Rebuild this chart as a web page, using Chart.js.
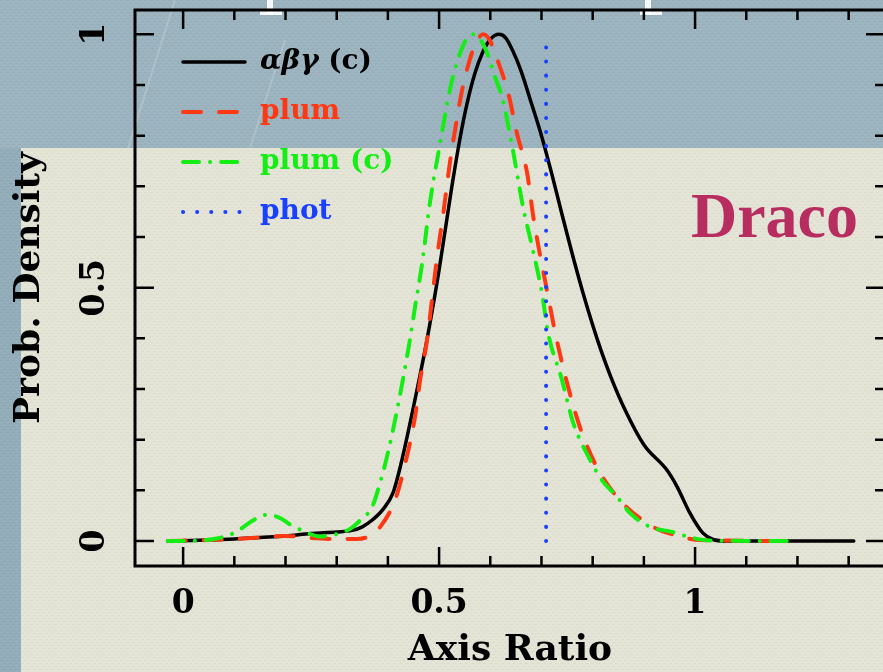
<!DOCTYPE html>
<html>
<head>
<meta charset="utf-8">
<script src="https://cdn.jsdelivr.net/npm/chart.js@4"></script>
<style>
  html, body { margin: 0; padding: 0; overflow: hidden; background: #e4e4d6; }
  canvas { display: block; }
</style>
</head>
<body>
<canvas id="densityChart" width="900" height="672"></canvas>
<script>
// axis ratio (x) and normalised probability density (y) per model
var abgRatio   = [-0.03, 0.05, 0.1, 0.15, 0.2, 0.25, 0.3, 0.33, 0.35, 0.37, 0.39, 0.41, 0.425, 0.45, 0.475, 0.5, 0.525, 0.54, 0.555, 0.57, 0.585, 0.6, 0.617, 0.63, 0.645, 0.66, 0.68, 0.7, 0.72, 0.74, 0.76, 0.785, 0.81, 0.835, 0.865, 0.9, 0.945, 0.965, 0.99, 1.015, 1.035, 1.06, 1.31];
var abgDensity = [0, 0.002, 0.004, 0.007, 0.01, 0.015, 0.018, 0.021, 0.028, 0.042, 0.062, 0.095, 0.15, 0.265, 0.39, 0.535, 0.7, 0.79, 0.865, 0.923, 0.964, 0.99, 1.0, 0.993, 0.965, 0.928, 0.865, 0.8, 0.725, 0.645, 0.567, 0.476, 0.395, 0.325, 0.255, 0.19, 0.14, 0.107, 0.055, 0.016, 0.003, 0, 0];

var plumRatio   = [-0.03, 0.05, 0.1, 0.15, 0.2, 0.25, 0.3, 0.34, 0.36, 0.38, 0.414, 0.434, 0.453, 0.463, 0.477, 0.486, 0.496, 0.508, 0.521, 0.531, 0.545, 0.56, 0.573, 0.586, 0.598, 0.609, 0.635, 0.652, 0.672, 0.684, 0.717, 0.727, 0.75, 0.775, 0.808, 0.853, 0.918, 0.96, 1.01, 1.19];
var plumDensity = [0, 0.002, 0.004, 0.007, 0.01, 0.006, 0.004, 0.004, 0.008, 0.022, 0.081, 0.154, 0.245, 0.318, 0.4, 0.476, 0.56, 0.645, 0.746, 0.81, 0.89, 0.95, 0.985, 1.0, 0.99, 0.963, 0.884, 0.805, 0.726, 0.64, 0.462, 0.41, 0.312, 0.225, 0.146, 0.081, 0.028, 0.012, 0.002, 0];

var plumCRatio   = [-0.03, 0.03, 0.06, 0.1, 0.137, 0.165, 0.19, 0.21, 0.234, 0.268, 0.293, 0.326, 0.346, 0.369, 0.385, 0.4, 0.418, 0.443, 0.453, 0.467, 0.482, 0.502, 0.521, 0.535, 0.547, 0.556, 0.566, 0.58, 0.594, 0.609, 0.623, 0.643, 0.664, 0.682, 0.701, 0.713, 0.74, 0.75, 0.762, 0.795, 0.818, 0.848, 0.873, 0.912, 0.955, 0.996, 1.03, 1.185];
var plumCDensity = [0, 0.001, 0.004, 0.016, 0.041, 0.052, 0.045, 0.032, 0.02, 0.009, 0.012, 0.024, 0.041, 0.067, 0.116, 0.174, 0.259, 0.397, 0.462, 0.549, 0.667, 0.785, 0.89, 0.945, 0.978, 0.994, 1.0, 0.99, 0.963, 0.916, 0.876, 0.778, 0.659, 0.58, 0.489, 0.41, 0.318, 0.278, 0.233, 0.16, 0.12, 0.087, 0.055, 0.028, 0.018, 0.006, 0.001, 0];

var photRatio   = [0.709, 0.709];
var photDensity = [0, 1.0];

var seriesLabels = ['αβγ (c)', 'plum', 'plum (c)', 'phot'];
var xTickLabels = ['0', '0.5', '1'];
var yTickLabels = ['0', '0.5', '1'];
var galaxyName = 'Draco';

var axisFont = 'DejaVu Serif';

function toPoints(xs, ys) {
    var pts = [];
    for (var i = 0; i < xs.length; i++) {
        pts.push({x: xs[i], y: ys[i]});
    }
    return pts;
}

// only the half-unit ticks get a label
function majorLabel(labels) {
    return function(value) {
        for (var i = 0; i < labels.length; i++) {
            if (Math.abs(value - parseFloat(labels[i])) < 1e-6) {
                return labels[i];
            }
        }
        return '';
    };
}

function isMajor(v) {
    return Math.abs(v * 2 - Math.round(v * 2)) < 1e-6;
}

// small woven tile laid over the board colours
function weave(ctx) {
    var tile = document.createElement('canvas');
    tile.width = 6;
    tile.height = 6;
    var t = tile.getContext('2d');
    t.fillStyle = 'rgba(0,0,0,0.035)';
    t.fillRect(0, 0, 3, 1);
    t.fillRect(3, 3, 3, 1);
    t.fillStyle = 'rgba(255,255,255,0.05)';
    t.fillRect(0, 2, 3, 1);
    t.fillRect(3, 5, 3, 1);
    return ctx.createPattern(tile, 'repeat');
}

// painted board behind the plot
var backdrop = {
    id: 'backdrop',
    beforeDraw: function(chart) {
        var ctx = chart.ctx, w = chart.width, h = chart.height;
        ctx.save();
        ctx.fillStyle = '#e4e4d6';
        ctx.fillRect(0, 0, w, h);
        ctx.fillStyle = '#9cb4bf';
        ctx.fillRect(0, 0, w, 148);
        ctx.fillStyle = '#93adba';
        ctx.fillRect(0, 148, 21, h - 148);
        ctx.fillStyle = weave(ctx);
        ctx.fillRect(0, 0, w, h);
        ctx.strokeStyle = 'rgba(255,255,255,0.18)';
        ctx.lineWidth = 2;
        ctx.beginPath();
        ctx.moveTo(175, 0); ctx.lineTo(128, 148);
        ctx.moveTo(285, 40); ctx.lineTo(250, 148);
        ctx.stroke();
        ctx.fillStyle = 'rgba(255,255,255,0.9)';
        ctx.fillRect(267, 0, 6, 14);
        ctx.fillRect(260, 11, 22, 4);
        ctx.fillRect(645, 0, 6, 14);
        ctx.fillRect(640, 11, 22, 4);
        ctx.restore();
    }
};

// box around the plot with inward tick marks on all four sides
var frame = {
    id: 'frame',
    afterDatasetsDraw: function(chart) {
        var a = chart.chartArea, ctx = chart.ctx;
        var xs = chart.scales.x, ys = chart.scales.y;
        ctx.save();
        ctx.strokeStyle = '#000';
        ctx.lineWidth = 2.5;
        ctx.beginPath();
        xs.ticks.forEach(function(t) {
            var px = xs.getPixelForValue(t.value);
            var len = isMajor(t.value) ? 19 : 10;
            ctx.moveTo(px, a.bottom); ctx.lineTo(px, a.bottom - len);
            ctx.moveTo(px, a.top); ctx.lineTo(px, a.top + len);
        });
        ys.ticks.forEach(function(t) {
            var py = ys.getPixelForValue(t.value);
            var len = isMajor(t.value) ? 19 : 10;
            ctx.moveTo(a.left, py); ctx.lineTo(a.left + len, py);
            ctx.moveTo(a.right, py); ctx.lineTo(a.right - len, py);
        });
        ctx.stroke();
        ctx.lineWidth = 3;
        ctx.strokeRect(a.left, a.top, a.right - a.left, a.bottom - a.top);
        ctx.restore();
    }
};

// key in the upper left corner, drawn from each dataset's own style
var keyBox = {
    id: 'keyBox',
    afterDatasetsDraw: function(chart) {
        var a = chart.chartArea, ctx = chart.ctx;
        ctx.save();
        chart.data.datasets.forEach(function(ds, i) {
            var y = a.top + 52 + i * 50;
            var x0 = a.left + 48, x1 = a.left + 110;
            ctx.strokeStyle = ds.borderColor;
            ctx.lineWidth = ds.borderWidth;
            ctx.lineCap = 'round';
            ctx.setLineDash(ds.borderDash || []);
            ctx.beginPath();
            ctx.moveTo(x0, y);
            ctx.lineTo(x1, y);
            ctx.stroke();
            ctx.setLineDash([]);

            ctx.fillStyle = ds.borderColor;
            ctx.textBaseline = 'middle';
            ctx.textAlign = 'left';
            var tx = a.left + 125;
            var m = ds.label.match(/^([α-ω]+)(.*)$/);
            if (m) {
                ctx.font = 'italic bold 28px "' + axisFont + '"';
                ctx.fillText(m[1], tx, y);
                tx += ctx.measureText(m[1]).width;
                ctx.font = 'bold 28px "' + axisFont + '"';
                ctx.fillText(m[2], tx, y);
            } else {
                ctx.font = 'bold 28px "' + axisFont + '"';
                ctx.fillText(ds.label, tx, y);
            }
        });
        ctx.restore();
    }
};

var nameTag = {
    id: 'nameTag',
    afterDatasetsDraw: function(chart) {
        var a = chart.chartArea, ctx = chart.ctx;
        ctx.save();
        ctx.font = 'bold 64px "Liberation Serif"';
        ctx.fillStyle = '#b82d5f';
        ctx.textAlign = 'right';
        ctx.textBaseline = 'alphabetic';
        ctx.fillText(galaxyName, a.right - 27, 237);
        ctx.restore();
    }
};

var chartEl = document.getElementById('densityChart').getContext('2d');

new Chart(chartEl, {
    type: 'line',
    data: {
        datasets: [
            {
                label: seriesLabels[0],
                data: toPoints(abgRatio, abgDensity),
                borderColor: '#000000',
                borderWidth: 3.5,
                order: 4
            },
            {
                label: seriesLabels[1],
                data: toPoints(plumRatio, plumDensity),
                borderColor: '#ff3814',
                borderWidth: 4,
                borderDash: [18, 18],
                order: 3
            },
            {
                label: seriesLabels[2],
                data: toPoints(plumCRatio, plumCDensity),
                borderColor: '#14ee14',
                borderWidth: 4,
                borderDash: [16, 11, 0.1, 11],
                order: 2
            },
            {
                label: seriesLabels[3],
                data: toPoints(photRatio, photDensity),
                borderColor: '#1a40ff',
                borderWidth: 4,
                borderDash: [0.1, 14],
                tension: 0,
                cubicInterpolationMode: 'default',
                order: 1
            }
        ]
    },
    options: {
        responsive: false,
        animation: false,
        devicePixelRatio: 1,
        layout: { padding: { top: 10, right: 15, left: 0, bottom: 0 } },
        elements: {
            point: { radius: 0 },
            line: { cubicInterpolationMode: 'monotone', borderCapStyle: 'round', fill: false }
        },
        plugins: {
            legend: { display: false },
            tooltip: { enabled: false }
        },
        scales: {
            x: {
                type: 'linear',
                min: -0.094,
                max: 1.371,
                grid: { display: false },
                border: { display: false },
                ticks: {
                    stepSize: 0.1,
                    includeBounds: false,
                    autoSkip: false,
                    maxRotation: 0,
                    padding: 11,
                    color: '#000',
                    font: { family: axisFont, size: 33, weight: 'bold' },
                    callback: majorLabel(xTickLabels)
                },
                title: {
                    display: true,
                    text: 'Axis Ratio',
                    color: '#000',
                    padding: 0,
                    font: { family: axisFont, size: 36, weight: 'bold' }
                },
                afterFit: function(s) {
                    s.height = 106;
                    s.paddingLeft = 0;
                    s.paddingRight = 0;
                }
            },
            y: {
                type: 'linear',
                min: -0.0493,
                max: 1.048,
                grid: { display: false },
                border: { display: false },
                ticks: {
                    stepSize: 0.1,
                    includeBounds: false,
                    autoSkip: false,
                    minRotation: 90,
                    maxRotation: 90,
                    crossAlign: 'center',
                    padding: 3,
                    color: '#000',
                    font: { family: axisFont, size: 33, weight: 'bold' },
                    callback: majorLabel(yTickLabels)
                },
                title: {
                    display: true,
                    text: 'Prob. Density',
                    color: '#000',
                    padding: { top: 8, bottom: 0 },
                    font: { family: axisFont, size: 36, weight: 'bold' }
                },
                afterFit: function(s) {
                    s.width = 135;
                    s.paddingTop = 0;
                    s.paddingBottom = 0;
                }
            }
        }
    },
    plugins: [backdrop, frame, keyBox, nameTag]
});
</script>
</body>
</html>
